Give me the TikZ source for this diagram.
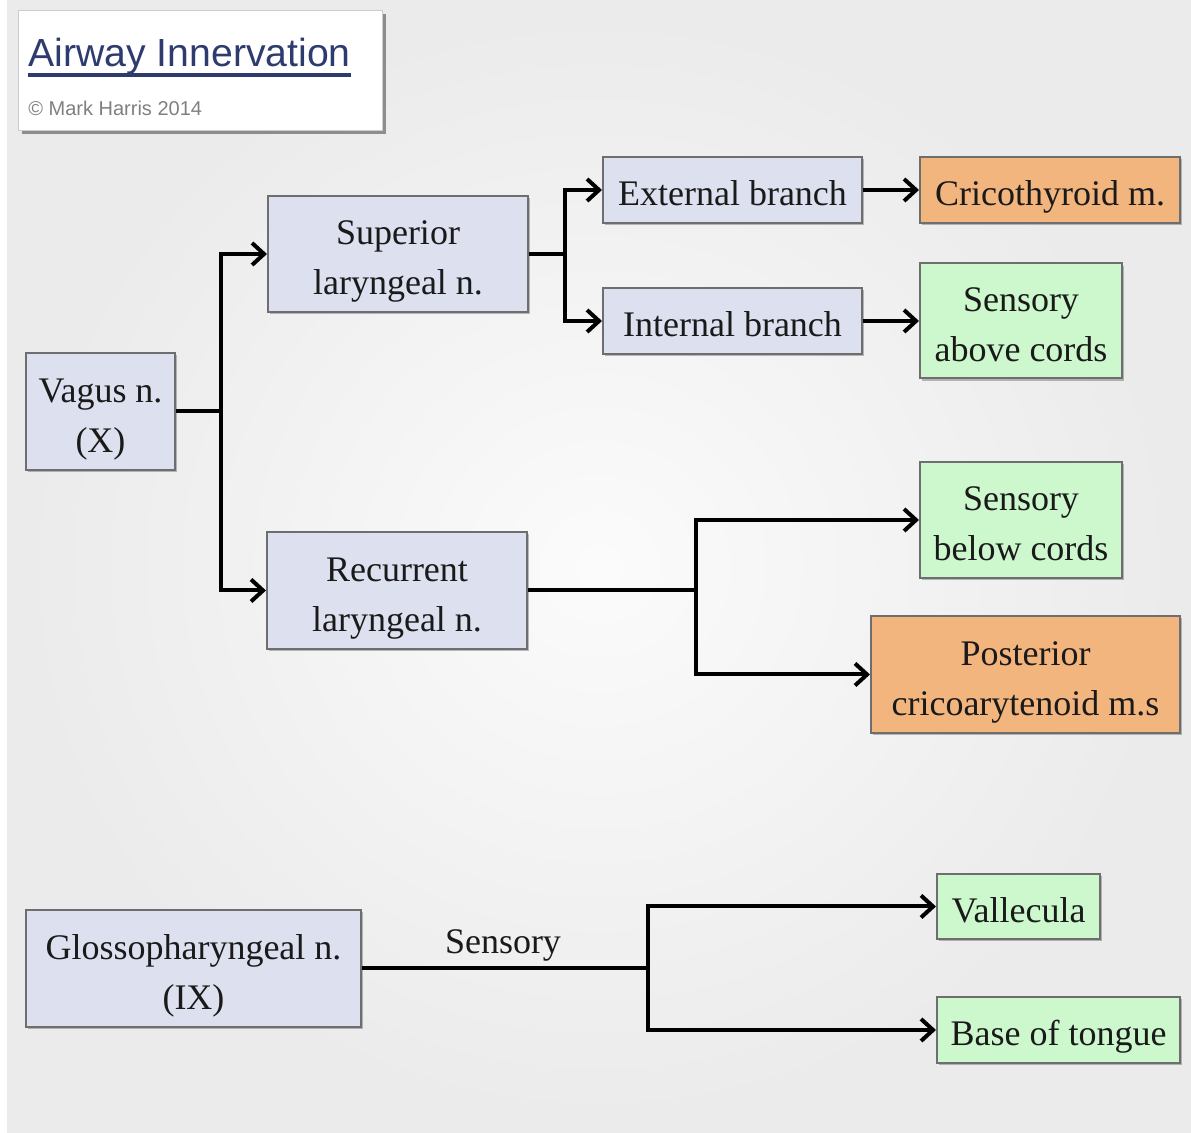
\documentclass[tikz,border=0pt]{standalone}
\usepackage{fontspec}
\setmainfont{Liberation Serif}
\newfontfamily\titlefont{Liberation Sans}
\usetikzlibrary{arrows.meta,shadows}
\definecolor{boxblue}{HTML}{DDE1EF}
\definecolor{boxorange}{HTML}{F3B57E}
\definecolor{boxgreen}{HTML}{CDF7CD}
\definecolor{boxedge}{HTML}{6E6E6E}
\definecolor{titleblue}{HTML}{2E3B6E}
\definecolor{txt}{HTML}{1A1A1A}
\newcommand{\bxt}[1]{\raisebox{-3pt}[\height][\depth]{\begin{tabular}{@{}c@{}}#1\end{tabular}}}
\tikzset{
  nbox/.style={draw=boxedge, line width=1pt, inner sep=0pt,
    text=txt, font=\fontsize{18}{25}\selectfont,
    drop shadow={shadow xshift=1.2pt, shadow yshift=-1.2pt, fill=black, opacity=0.25}},
  bluebox/.style={nbox, fill=boxblue},
  orangebox/.style={nbox, fill=boxorange},
  greenbox/.style={nbox, fill=boxgreen},
  conn/.style={line width=2pt, draw=black},
  arr/.style={conn, -{Straight Barb[length=6pt,width=11pt]}},
}
\begin{document}
\begin{tikzpicture}[x=0.5pt,y=-0.5pt]
\useasboundingbox (0,0) rectangle (1191,1133);
\fill[white] (0,0) rectangle (1191,1133);
\shade[inner color=gray!3, outer color=gray!16] (7,0) rectangle (1191,1133);

% title box
\node[draw=gray!40, fill=white, minimum width=182pt, minimum height=60pt,
  drop shadow={shadow xshift=2pt, shadow yshift=-2pt, fill=black, opacity=0.4}] (titlebox) at (200,70) {};
\node[anchor=base west, inner sep=0pt, text=titleblue, font=\titlefont\fontsize{19.6}{24}\selectfont] (title) at (28,67) {Airway Innervation};
\draw[titleblue, line width=2pt] (title.base west) ++(0,8) coordinate (ul1) -- (title.base east |- ul1);
\node[anchor=base west, inner sep=0pt, text=gray, font=\titlefont\fontsize{10}{12}\selectfont] (copy) at (28,116) {\textcopyright{} Mark Harris 2014};

% nodes
\node[bluebox, minimum width=74.5pt, minimum height=58.5pt] (vagus) at (100.5,411.5) {\bxt{Vagus n.\\(X)}};
\node[bluebox, minimum width=130pt, minimum height=58pt] (sup) at (398,254) {\bxt{Superior\\laryngeal n.}};
\node[bluebox, minimum width=130pt, minimum height=58.5pt] (rec) at (397,590.5) {\bxt{Recurrent\\laryngeal n.}};
\node[bluebox, minimum width=129.5pt, minimum height=33pt] (ext) at (732.5,190) {\bxt{External branch}};
\node[bluebox, minimum width=129.5pt, minimum height=33pt] (int) at (732.5,321) {\bxt{Internal branch}};
\node[orangebox, minimum width=130pt, minimum height=33pt] (crico) at (1050,190) {\bxt{Cricothyroid m.}};
\node[greenbox, minimum width=101pt, minimum height=57.5pt] (sabove) at (1021,321) {\bxt{Sensory\\above cords}};
\node[greenbox, minimum width=101pt, minimum height=58pt] (sbelow) at (1021,520) {\bxt{Sensory\\below cords}};
\node[orangebox, minimum width=154.5pt, minimum height=58.5pt] (post) at (1025.5,674.5) {\bxt{Posterior\\cricoarytenoid m.s}};
\node[bluebox, minimum width=167.5pt, minimum height=58.5pt] (glosso) at (193.5,968.5) {\bxt{Glossopharyngeal n.\\(IX)}};
\node[greenbox, minimum width=81.5pt, minimum height=32.5pt] (vall) at (1018.5,906.5) {\bxt{Vallecula}};
\node[greenbox, minimum width=121.5pt, minimum height=33pt] (base) at (1058.5,1030) {\bxt{Base of tongue}};

% connectors
\draw[conn] (vagus.east) -- (221,411.5) coordinate (j1);
\draw[arr] (j1) |- (sup.west);
\draw[arr] (j1) |- (rec.west);

\draw[conn] (sup.east) -- (565,254) coordinate (j2);
\draw[arr] (j2) |- (ext.west);
\draw[arr] (j2) |- (int.west);

\draw[arr] (ext.east) -- (crico.west);
\draw[arr] (int.east) -- (sabove.west);

\draw[conn] (rec.east) -- (696,590.5) coordinate (j3);
\draw[arr] (j3) |- (sbelow.west);
\draw[arr] (j3) |- (post.west);

\draw[conn] (glosso.east) -- (648,968.5) coordinate (j4);
\draw[arr] (j4) |- (vall.west);
\draw[arr] (j4) |- (base.west);
\node[text=txt, font=\fontsize{18}{25}\selectfont, inner sep=0pt] (senslabel) at (503,945) {Sensory};
\end{tikzpicture}
\end{document}
